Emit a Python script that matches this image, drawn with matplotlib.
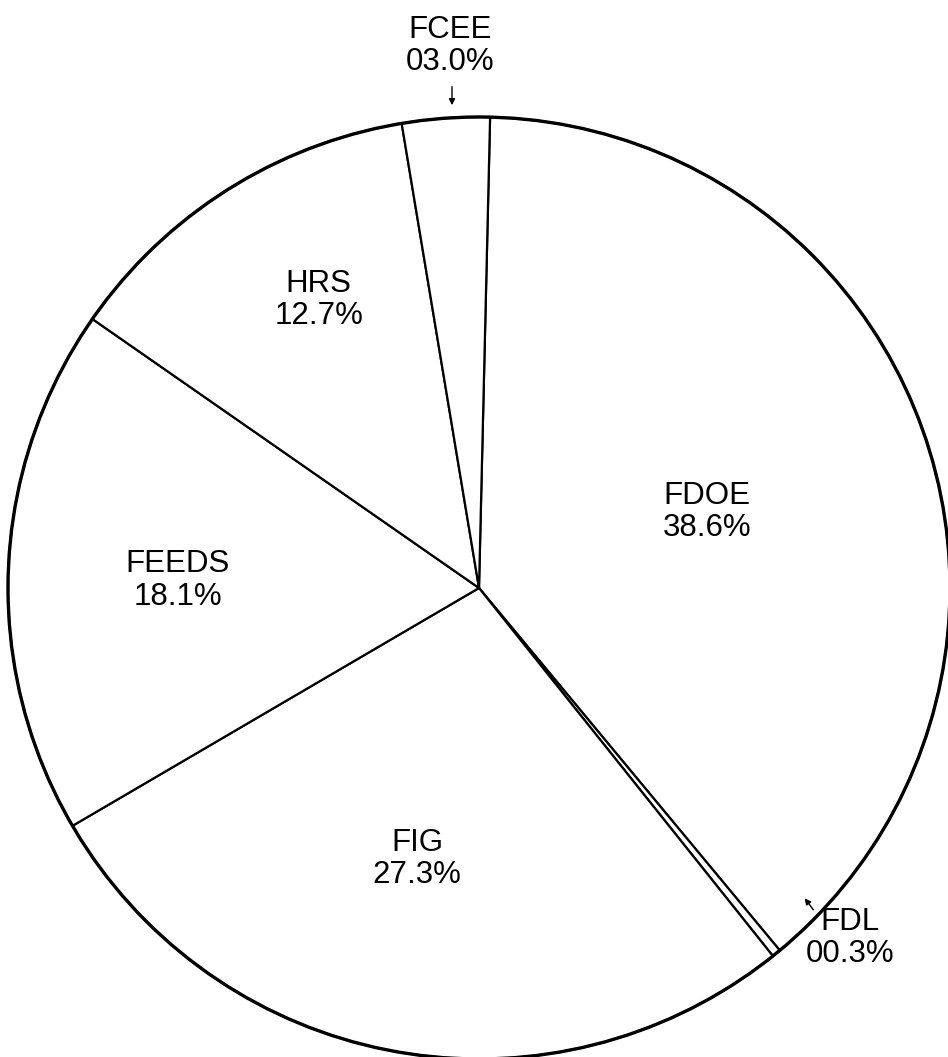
import numpy as np
import matplotlib
matplotlib.use("Agg")
import matplotlib.pyplot as plt
from matplotlib.patches import Circle

labels = ["FDOE", "FDL", "FIG", "FEEDS", "HRS", "FCEE"]
shares = [38.6, 0.3, 27.3, 18.1, 12.7, 3.0]

# label distance (fraction of radius) and angle nudge for inside labels
inside = {"FDOE": (0.51, -0.7), "FIG": (0.59, -2.3), "FEEDS": (0.64, 0.8), "HRS": (0.70, -3.2)}

W, H = 948, 1057
cx, cy, r = 479, H - 588, 471

plt.rcParams['font.family'] = ['Liberation Sans', 'DejaVu Sans']
fig = plt.figure(figsize=(W / 100, H / 100), dpi=100)
ax = fig.add_axes([0, 0, 1, 1])

wedges, _ = ax.pie(shares, startangle=88.65, counterclock=False, center=(cx, cy), radius=r,
                   colors=['white'] * len(shares),
                   wedgeprops=dict(edgecolor='black', linewidth=1.6))
ax.add_patch(Circle((cx, cy), r, fill=False, edgecolor='black', linewidth=2.4))

fs = 22.5
for w, lab, v in zip(wedges, labels, shares):
    txt = "%s\n%04.1f%%" % (lab, v)
    mid = np.deg2rad((w.theta1 + w.theta2) / 2.0)
    if lab in inside:
        d, nudge = inside[lab]
        a = mid + np.deg2rad(nudge)
        ax.text(cx + d * r * np.cos(a), cy + d * r * np.sin(a), txt, ha='center', va='center',
                fontsize=fs, linespacing=1.1)

# small slices: labels outside with arrows
ax.text(450, H - 46, "FCEE\n03.0%", ha='center', va='center', fontsize=fs, linespacing=1.1)
ax.annotate("", xy=(452, H - 108), xytext=(452, H - 84),
            arrowprops=dict(arrowstyle='-|>', lw=1.0, color='black', mutation_scale=9))
ax.text(850, H - 938, "FDL\n00.3%", ha='center', va='center', fontsize=fs, linespacing=1.1)
ax.annotate("", xy=(803, H - 896), xytext=(815, H - 912),
            arrowprops=dict(arrowstyle='-|>', lw=1.0, color='black', mutation_scale=9))

ax.set_xlim(0, W)
ax.set_ylim(0, H)
ax.set_aspect('equal')
ax.axis('off')

fig.savefig("out.png", dpi=100, facecolor='white')
